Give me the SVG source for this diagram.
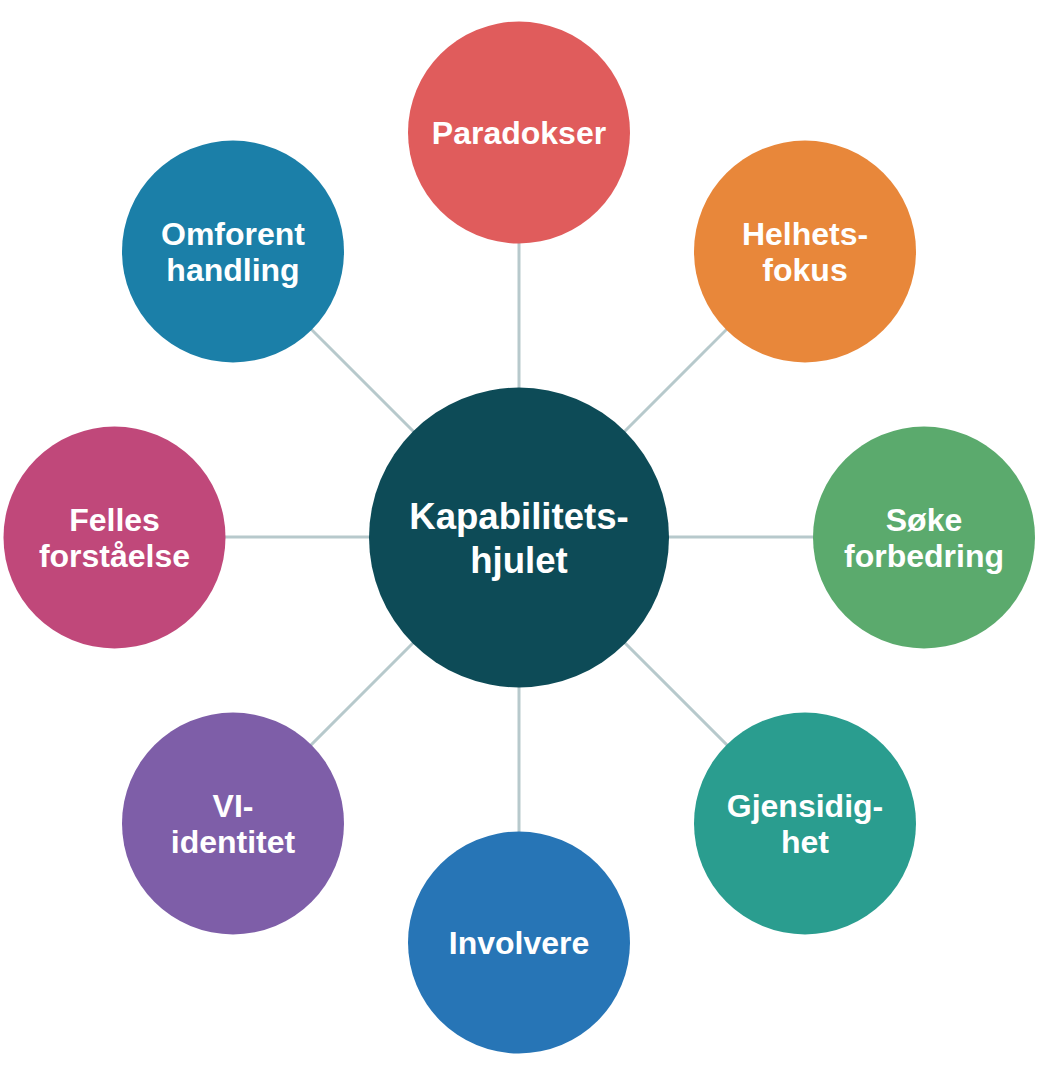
<svg xmlns="http://www.w3.org/2000/svg" width="1040" height="1073" viewBox="0 0 1040 1073">
<style>
.c{stroke:none}
.t{font-family:"Liberation Sans",Arial,sans-serif;font-weight:bold;font-size:32px;fill:#ffffff;text-anchor:middle}
.tc{font-size:36.6px}
.ln{stroke:#B7C9CC;stroke-width:3;fill:none}
</style>
<rect width="1040" height="1073" fill="#ffffff"/>
<g id="connectors">
<line class="ln" x1="519" y1="537" x2="519" y2="132"/>
<line class="ln" x1="519" y1="537" x2="805" y2="251"/>
<line class="ln" x1="519" y1="537" x2="924" y2="537"/>
<line class="ln" x1="519" y1="537" x2="805" y2="823"/>
<line class="ln" x1="519" y1="537" x2="519" y2="942"/>
<line class="ln" x1="519" y1="537" x2="233" y2="823"/>
<line class="ln" x1="519" y1="537" x2="114" y2="537"/>
<line class="ln" x1="519" y1="537" x2="233" y2="251"/>
</g>
<g id="center">
<circle class="c" cx="519" cy="537.5" r="150" fill="#0D4B57"/>
<text class="t tc" x="519" y="529">Kapabilitets-</text>
<text class="t tc" x="519" y="573">hjulet</text>
</g>
<g id="paradokser">
<circle class="c" cx="519" cy="132.5" r="111" fill="#E05C5C"/>
<text class="t" x="519" y="144">Paradokser</text>
</g>
<g id="helhetsfokus">
<circle class="c" cx="805" cy="251.5" r="111" fill="#E8873A"/>
<text class="t" x="805" y="245">Helhets-</text>
<text class="t" x="805" y="281">fokus</text>
</g>
<g id="soke-forbedring">
<circle class="c" cx="924" cy="537.5" r="111" fill="#5BAA6D"/>
<text class="t" x="924" y="531">Søke</text>
<text class="t" x="924" y="567">forbedring</text>
</g>
<g id="gjensidighet">
<circle class="c" cx="805" cy="823.5" r="111" fill="#2A9D8F"/>
<text class="t" x="805" y="817">Gjensidig-</text>
<text class="t" x="805" y="853">het</text>
</g>
<g id="involvere">
<circle class="c" cx="519" cy="942.5" r="111" fill="#2775B6"/>
<text class="t" x="519" y="954">Involvere</text>
</g>
<g id="vi-identitet">
<circle class="c" cx="233" cy="823.5" r="111" fill="#7E5EA8"/>
<text class="t" x="233" y="817">VI-</text>
<text class="t" x="233" y="853">identitet</text>
</g>
<g id="felles-forstaelse">
<circle class="c" cx="114.5" cy="537.5" r="111" fill="#C0487A"/>
<text class="t" x="114.5" y="531">Felles</text>
<text class="t" x="114.5" y="567">forståelse</text>
</g>
<g id="omforent-handling">
<circle class="c" cx="233" cy="251.5" r="111" fill="#1B7FA8"/>
<text class="t" x="233" y="245">Omforent</text>
<text class="t" x="233" y="281">handling</text>
</g>
</svg>
